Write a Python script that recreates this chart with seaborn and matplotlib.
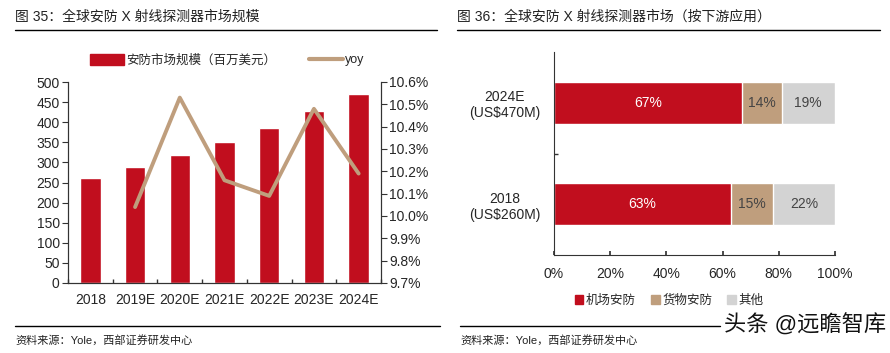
import matplotlib
matplotlib.use("Agg")
import matplotlib.pyplot as plt
import numpy as np
import pandas as pd
import seaborn as sns
from matplotlib.lines import Line2D
from matplotlib.patches import Patch
from matplotlib.ticker import FuncFormatter, MultipleLocator

# 0. Data
years = ["2018", "2019E", "2020E", "2021E", "2022E", "2023E", "2024E"]
market_size = [262, 288, 318, 351, 386, 427, 470]
yoy = [np.nan, 10.04, 10.53, 10.16, 10.09, 10.48, 10.19]

segments = ["机场安防", "货物安防", "其他"]
periods = ["2024E\n(US$470M)", "2018\n(US$260M)"]
share_airport = [67, 63]
share_cargo = [14, 15]
share_other = [19, 22]

RED = "#C10E1E"
TAN = "#BF9E7D"
GRAY = "#D3D3D3"
SPINE = "#333333"

sns.set_theme(style="white")
plt.rcParams["font.family"] = ["Liberation Sans", "Noto Sans CJK SC", "DejaVu Sans"]
plt.rcParams["axes.edgecolor"] = SPINE

fig = plt.figure(figsize=(8.9, 3.53), dpi=100)

# 1. Titles, rules and sources
fig.text(15 / 890, 1 - 17 / 353, "图 35：全球安防 X 射线探测器市场规模",
         fontsize=10, va="center", color="#222222")
fig.text(457 / 890, 1 - 17 / 353, "图 36：全球安防 X 射线探测器市场（按下游应用）",
         fontsize=10, va="center", color="#222222")
for x0, x1, y in [(15, 437, 30), (457, 880, 30), (15, 440, 326), (460, 720, 326)]:
    fig.add_artist(Line2D([x0 / 890, x1 / 890], [1 - y / 353] * 2,
                          color="black", lw=1.0))
for x in (15, 460):
    fig.text(x / 890, 1 - 340 / 353, "资料来源：Yole，西部证券研发中心",
             fontsize=8, va="center", color="#222222")
fig.text(886 / 890, 1 - 326 / 353, "头条 @远瞻智库", fontsize=16,
         ha="right", va="center", color="#111111",
         bbox=dict(facecolor="white", edgecolor="none", pad=1))

# 2. Left chart: bars + yoy line
ax = fig.add_axes([68 / 890, 1 - 283 / 353, 313 / 890, 201 / 353])
df_size = pd.DataFrame({"year": years, "size": market_size, "yoy": yoy})
sns.barplot(data=df_size, x="year", y="size", color=RED, width=0.46,
            saturation=1, ax=ax)
ax.set_xlim(-0.5, 6.5)
ax.set_ylim(0, 500)
ax.yaxis.set_major_locator(MultipleLocator(50))
ax.set_xlabel("")
ax.set_ylabel("")
ax.spines["top"].set_visible(False)
ax.tick_params(axis="y", direction="out", length=4, width=0.8, left=True,
               labelsize=10, pad=2, color=SPINE)
ax.tick_params(axis="x", which="major", length=0, labelsize=10, pad=7)
ax.set_xticks(np.arange(-0.5, 7, 1), minor=True)
ax.tick_params(axis="x", which="minor", direction="in", length=3,
               bottom=True, color=SPINE)

ax2 = ax.twinx()
sns.lineplot(data=df_size, x="year", y="yoy", color=TAN, lw=2.8, ax=ax2)
ax2.set_ylim(9.7, 10.6)
ax2.yaxis.set_major_locator(MultipleLocator(0.1))
ax2.yaxis.set_major_formatter(FuncFormatter(lambda v, _: f"{v:.1f}%"))
ax2.set_ylabel("")
ax2.set_xlabel("")
ax2.spines["top"].set_visible(False)
ax2.tick_params(axis="y", direction="out", length=4, width=0.8, right=True,
                labelsize=10, pad=2, color=SPINE)
for a in (ax, ax2):
    for s in a.spines.values():
        s.set_linewidth(0.8)

fig.legend(handles=[Patch(color=RED), Line2D([], [], color=TAN, lw=3)],
           labels=["安防市场规模（百万美元）", "yoy"],
           loc="center left", bbox_to_anchor=(90 / 890, 1 - 60 / 353),
           ncol=2, frameon=False, fontsize=9, handlelength=2.7,
           handleheight=1.0, columnspacing=2.6, handletextpad=0.2,
           borderpad=0, borderaxespad=0)

# 3. Right chart: stacked horizontal bars (drawn back to front)
bx = fig.add_axes([554 / 890, 1 - 255 / 353, 281 / 890, 203 / 353])
df_share = pd.DataFrame({"period": periods, "airport": share_airport,
                         "cargo": share_cargo, "other": share_other})
df_share["c1"] = df_share["airport"]
df_share["c2"] = df_share["c1"] + df_share["cargo"]
df_share["c3"] = df_share["c2"] + df_share["other"]
for col, colr in [("c3", GRAY), ("c2", TAN), ("c1", RED)]:
    sns.barplot(data=df_share, y="period", x=col, color=colr, orient="h",
                width=0.41, saturation=1, ax=bx)
for i, row in df_share.iterrows():
    for val, end, tc in [(row["airport"], row["c1"], "white"),
                         (row["cargo"], row["c2"], "#444444"),
                         (row["other"], row["c3"], "#444444")]:
        bx.text(end - val / 2, i, f"{val}%", ha="center", va="center",
                fontsize=10, color=tc)
bx.set_xlim(0, 100)
bx.set_ylim(1.5, -0.5)
bx.xaxis.set_major_locator(MultipleLocator(20))
bx.xaxis.set_major_formatter(FuncFormatter(lambda v, _: f"{v:.0f}%"))
bx.set_xlabel("")
bx.set_ylabel("")
bx.spines["top"].set_visible(False)
bx.spines["right"].set_visible(False)
for s in bx.spines.values():
    s.set_linewidth(0.8)
bx.tick_params(axis="x", direction="in", length=3, bottom=True,
               labelsize=10, pad=9, color=SPINE)
bx.tick_params(axis="y", which="major", length=0, labelsize=10, pad=10)
for lbl in bx.get_yticklabels():
    lbl.set_multialignment("center")
bx.set_yticks([0.5], minor=True)
bx.tick_params(axis="y", which="minor", direction="in", length=3,
               left=True, color=SPINE)

fig.legend(handles=[Patch(color=c) for c in (RED, TAN, GRAY)],
           labels=segments, loc="center", bbox_to_anchor=(669 / 890, 1 - 301 / 353),
           ncol=3, frameon=False, fontsize=9, handlelength=0.7,
           handleheight=0.7, columnspacing=1.2, handletextpad=0.2)

fig.savefig("out.png", dpi=100)
